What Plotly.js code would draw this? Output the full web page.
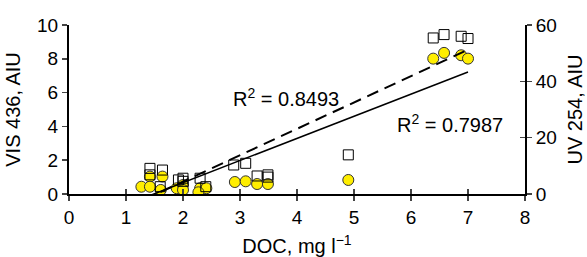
<!DOCTYPE html>
<html><head><meta charset="utf-8">
<script src="https://cdn.plot.ly/plotly-3.0.1.min.js"></script>
<style>html,body{margin:0;padding:0;background:#fff;}#c{width:587px;height:257px;}</style>
</head><body><div id="c"></div>
<script>
// DOC (mg l-1) and absorbance values
const uvDOC = [6.39, 6.58, 6.88, 7.00, 4.90, 2.89, 3.10, 3.30, 3.49, 3.49, 1.42, 1.42, 1.64, 1.60, 1.92, 2.00, 2.00, 2.30, 2.40];
const uv254 = [55.4, 56.6, 56.0, 55.2, 13.9, 10.3, 10.9, 6.4, 6.8, 6.0, 9.1, 6.8, 8.5, 2.6, 5.0, 5.6, 4.5, 5.6, 2.6];
const visDOC = [6.39, 6.58, 6.88, 7.00, 4.90, 2.91, 3.10, 3.30, 3.49, 1.27, 1.42, 1.42, 1.64, 1.61, 1.89, 2.00, 2.00, 2.30, 2.41, 2.27];
const vis436 = [8.01, 8.35, 8.21, 8.01, 0.83, 0.71, 0.75, 0.59, 0.59, 0.43, 1.03, 0.43, 1.03, 0.24, 0.34, 0.53, 0.24, 0.34, 0.34, 0.10];
// linear trend lines: [slope, intercept], x span
const uvFit = [9.36, -14.3];
const visFit = [1.31, -1.95];
const fitX = [1.3, 7.0];
const r2Labels = ['R<sup>2</sup> = 0.8493', 'R<sup>2</sup> = 0.7987'];
const xTicks = [0,1,2,3,4,5,6,7,8];
const yTicks = [0,2,4,6,8,10];
const y2Ticks = [0,20,40,60];

const F = 'Liberation Sans, Arial, sans-serif';
const traces = [
  {x: uvDOC, y: uv254, yaxis: 'y2', mode: 'markers', type: 'scatter',
   marker: {symbol: 'square', size: 10, color: 'rgba(255,255,255,0)', line: {color: '#000', width: 1}}},
  {x: visDOC, y: vis436, mode: 'markers', type: 'scatter',
   marker: {symbol: 'circle', size: 11, color: '#FFEE00', line: {color: '#333', width: 1}}},
  {x: fitX, y: fitX.map(v => uvFit[0]*v + uvFit[1]), yaxis: 'y2', mode: 'lines', type: 'scatter',
   line: {color: '#000', width: 2, dash: '12px,7px'}},
  {x: fitX, y: fitX.map(v => visFit[0]*v + visFit[1]), mode: 'lines', type: 'scatter',
   line: {color: '#000', width: 1.5}}
];
const layout = {
  width: 587, height: 257, showlegend: false,
  paper_bgcolor: '#fff', plot_bgcolor: 'rgba(0,0,0,0)',
  margin: {l: 69, r: 62, t: 25, b: 63},
  font: {family: F, size: 19, color: '#000'},
  xaxis: {range: [0, 8], tickvals: xTicks, ticks: 'outside', ticklen: 5, tickwidth: 1.5,
    showline: true, linewidth: 2, linecolor: '#000', showgrid: false, zeroline: false,
    tickfont: {size: 19}, title: {text: 'DOC, mg l<sup>−1</sup>', font: {size: 20}, standoff: 15}},
  xaxis2: {range: [0, 8], tickvals: xTicks, ticks: 'inside', ticklen: 5, tickwidth: 1.5,
    overlaying: 'x', anchor: 'y', side: 'bottom', showticklabels: false, showgrid: false, zeroline: false},
  yaxis: {range: [0, 10], tickvals: yTicks, ticks: 'outside', ticklen: 5, tickwidth: 1.5,
    showline: true, linewidth: 2, linecolor: '#000', showgrid: false, zeroline: false,
    tickfont: {size: 19}, title: {text: 'VIS 436, AIU', font: {size: 20}, standoff: 11}},
  yaxis2: {range: [0, 60], tickvals: y2Ticks, ticks: 'outside', ticklen: 5, tickwidth: 1.5,
    overlaying: 'y', side: 'right', anchor: 'x',
    showline: true, linewidth: 2, linecolor: '#000', showgrid: false, zeroline: false,
    tickfont: {size: 19}, title: {text: 'UV 254, AIU', font: {size: 20}, standoff: 12}},
  yaxis3: {range: [0, 60], tickvals: y2Ticks, ticks: 'inside', ticklen: 5, tickwidth: 1.5,
    overlaying: 'y', side: 'right', anchor: 'x', showticklabels: false, showgrid: false, zeroline: false},
  annotations: [
    {x: 2.85, y: 5.7, xref: 'x', yref: 'y', text: r2Labels[0], showarrow: false, xanchor: 'left', yanchor: 'middle', font: {size: 20}},
    {x: 5.72, y: 4.2, xref: 'x', yref: 'y', text: r2Labels[1], showarrow: false, xanchor: 'left', yanchor: 'middle', font: {size: 20}}
  ]
};
// dummy trace so the overlay axes are drawn
traces.push({x: [null], y: [null], xaxis: 'x2', yaxis: 'y3', type: 'scatter', mode: 'markers', hoverinfo: 'skip'});
Plotly.newPlot('c', traces, layout, {staticPlot: true});
</script></body></html>
